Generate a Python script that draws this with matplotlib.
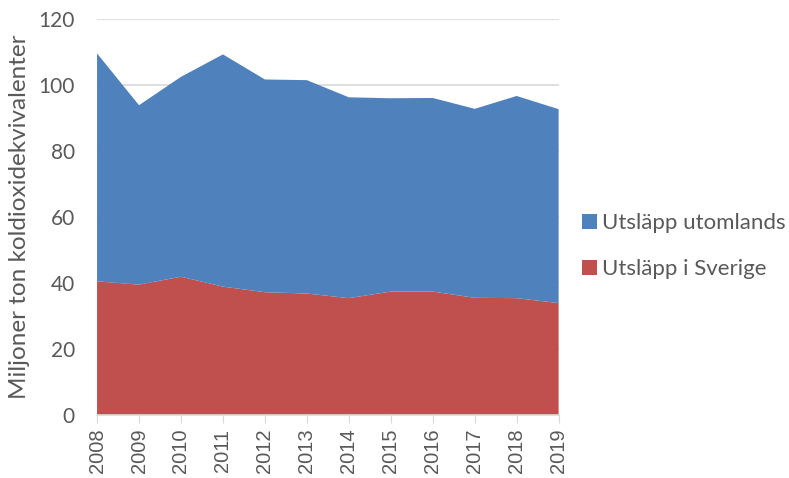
import matplotlib.pyplot as plt
import numpy as np

years = [2008, 2009, 2010, 2011, 2012, 2013, 2014, 2015, 2016, 2017, 2018, 2019]
sverige = [40.5, 39.5, 41.9, 38.9, 37.2, 36.8, 35.4, 37.4, 37.4, 35.5, 35.4, 33.9]
utomlands = [69.1, 54.4, 60.6, 70.4, 64.5, 64.7, 60.9, 58.6, 58.7, 57.3, 61.3, 58.8]

blue = '#4F81BD'
red = '#C0504D'
grey = '#595959'

plt.rcParams['font.family'] = ['Lato', 'DejaVu Sans']

fig = plt.figure(figsize=(7.89, 4.78), dpi=100)
ax = fig.add_axes([0.123, 0.132, 0.585, 0.828])

ax.stackplot(years, sverige, utomlands, colors=[red, blue],
             labels=['Utsläpp i Sverige', 'Utsläpp utomlands'], zorder=2)

ax.set_xlim(2008, 2019)
ax.set_ylim(0, 120)
ax.set_yticks(np.arange(0, 121, 20))
ax.set_xticks(years)
ax.set_xticklabels([str(y) for y in years], rotation=90,
                   family=['Liberation Sans', 'DejaVu Sans'])
ax.grid(axis='y', color='#D9D9D9', linewidth=1.2, zorder=0)
ax.set_axisbelow(True)

for s in ['top', 'right', 'left']:
    ax.spines[s].set_visible(False)
ax.spines['bottom'].set_color('#D9D9D9')
ax.spines['bottom'].set_linewidth(1.2)
ax.tick_params(axis='y', length=0, labelsize=15, labelcolor=grey, pad=16)
ax.tick_params(axis='x', length=6, color='#D9D9D9', labelsize=14.5, labelcolor=grey, pad=4)

ax.set_ylabel('Miljoner ton koldioxidekvivalenter', fontsize=17.5, color=grey, labelpad=6)

handles, labels = ax.get_legend_handles_labels()
fig.legend(handles[::-1], labels[::-1], loc='center left', bbox_to_anchor=(0.727, 0.485),
           frameon=False, fontsize=16, labelcolor=grey, handlelength=0.65, handleheight=0.65,
           labelspacing=1.15, handletextpad=0.25, borderaxespad=0)

fig.savefig('out.png', dpi=100)
